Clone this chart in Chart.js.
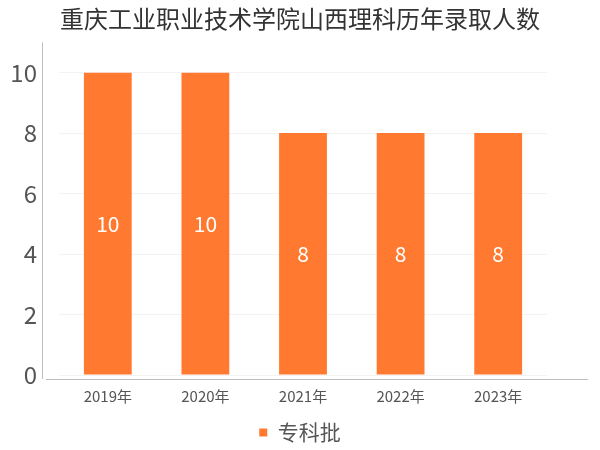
<!DOCTYPE html>
<html>
<head>
    <meta charset="UTF-8">
    <title>重庆工业职业技术学院山西理科历年录取人数</title>
    <script src="https://cdn.jsdelivr.net/npm/chart.js"></script>
    <style>
        html, body { margin: 0; padding: 0; background: #fff; }
    </style>
</head>
<body>
    <canvas id="myChart" width="600" height="450"></canvas>
    <script>
        // data
        const years = ['2019年', '2020年', '2021年', '2022年', '2023年'];
        const counts = [10, 10, 8, 8, 8];
        const seriesName = '专科批';
        const yTicks = [0, 2, 4, 6, 8, 10];

        const barColor = '#ff7a30';
        const fontFamily = '"Noto Sans CJK SC", "Noto Sans", sans-serif';

        // axis lines + value labels inside bars
        const extras = {
            id: 'extras',
            afterDatasetsDraw(chart) {
                const ctx = chart.ctx;
                const area = chart.chartArea;
                ctx.save();
                ctx.strokeStyle = '#bdbdbd';
                ctx.lineWidth = 1;
                ctx.beginPath();
                ctx.moveTo(42.5, area.top);
                ctx.lineTo(42.5, area.bottom + 4);
                ctx.moveTo(46, area.bottom + 4.5);
                ctx.lineTo(588, area.bottom + 4.5);
                ctx.stroke();

                const meta = chart.getDatasetMeta(0);
                ctx.fillStyle = '#ffffff';
                ctx.font = '21px ' + fontFamily;
                ctx.textAlign = 'center';
                ctx.textBaseline = 'middle';
                meta.data.forEach((bar, i) => {
                    const v = chart.data.datasets[0].data[i];
                    ctx.fillText(String(v), bar.x, (bar.y + bar.base) / 2);
                });
                ctx.restore();
            }
        };

        const ctx = document.getElementById('myChart').getContext('2d');
        const myChart = new Chart(ctx, {
            type: 'bar',
            data: {
                labels: years,
                datasets: [{
                    label: seriesName,
                    data: counts,
                    backgroundColor: barColor,
                    borderWidth: 0,
                    categoryPercentage: 1,
                    barPercentage: 0.49
                }]
            },
            options: {
                responsive: false,
                animation: false,
                layout: { padding: { bottom: -3 } },
                plugins: {
                    title: {
                        display: true,
                        text: '重庆工业职业技术学院山西理科历年录取人数',
                        color: '#333',
                        font: { family: fontFamily, size: 24, weight: 'normal', lineHeight: 1.1 },
                        padding: { top: 6, bottom: 10 }
                    },
                    legend: {
                        position: 'bottom',
                        labels: {
                            color: '#555',
                            font: { family: fontFamily, size: 21 },
                            boxWidth: 8,
                            boxHeight: 8,
                            padding: 4
                        }
                    },
                    tooltip: { enabled: false }
                },
                scales: {
                    x: {
                        afterFit(scale) { scale.height = 43; },
                        grid: { display: false, drawTicks: false },
                        border: { display: false },
                        ticks: {
                            color: '#555',
                            font: { family: fontFamily, size: 15 },
                            padding: 12,
                            maxRotation: 0,
                            autoSkip: false
                        }
                    },
                    y: {
                        min: 0,
                        max: 11,
                        afterBuildTicks(scale) {
                            scale.ticks = yTicks.map(v => ({ value: v }));
                        },
                        afterFit(scale) { scale.width = 59; },
                        grid: { color: '#f3f3f3', drawTicks: false },
                        border: { display: false },
                        ticks: {
                            color: '#555',
                            font: { family: fontFamily, size: 24 },
                            padding: 22
                        }
                    },
                    right: {
                        position: 'right',
                        afterFit(scale) { scale.width = 53; },
                        grid: { display: false },
                        border: { display: false },
                        ticks: { display: false }
                    }
                }
            },
            plugins: [extras]
        });
    </script>
</body>
</html>
